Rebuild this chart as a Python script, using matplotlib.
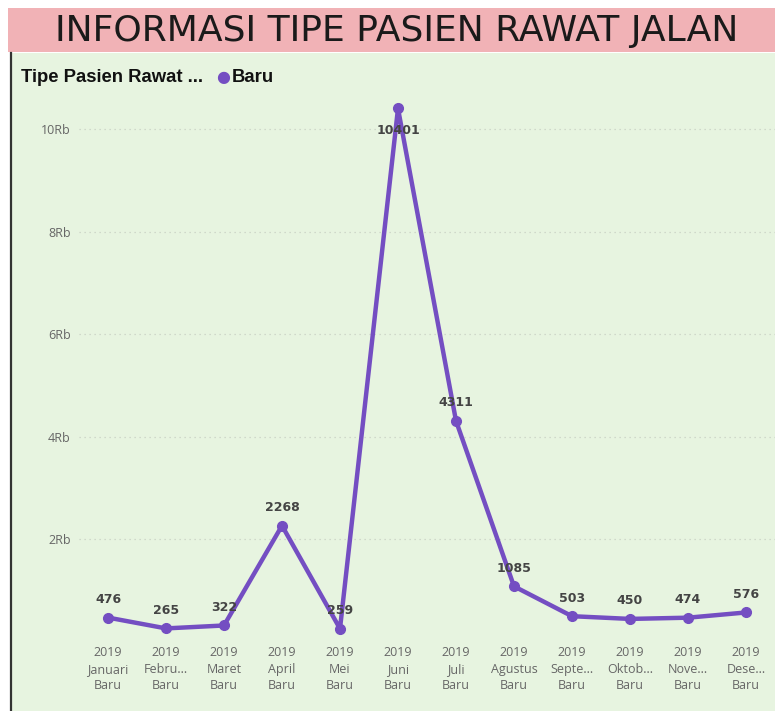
import matplotlib
matplotlib.use("Agg")
import matplotlib.pyplot as plt
from matplotlib.patches import Rectangle
from matplotlib.lines import Line2D

months = ["Januari", "Febru...", "Maret", "April", "Mei", "Juni", "Juli",
          "Agustus", "Septe...", "Oktob...", "Nove...", "Dese..."]
values = [476, 265, 322, 2268, 259, 10401, 4311, 1085, 503, 450, 474, 576]
year = "2019"
series_name = "Baru"
ytick_vals = [2000, 4000, 6000, 8000, 10000]
ytick_labels = ["2Rb", "4Rb", "6Rb", "8Rb", "10Rb"]

W, H = 775, 711
fig = plt.figure(figsize=(W / 100, H / 100), dpi=100)
fig.patch.set_facecolor("white")

def px(x, y, w, h):
    return (x / W, 1 - (y + h) / H, w / W, h / H)

pink = "#F1B2B6"
green = "#E7F4E0"
purple = "#744EC2"

x0, y0, w0, h0 = px(8, 8, 767, 44)
fig.patches.append(Rectangle((x0, y0), w0, h0, transform=fig.transFigure,
                             facecolor=pink, edgecolor="none", zorder=-10))
x0, y0, w0, h0 = px(12, 53, 763, 658)
fig.patches.append(Rectangle((x0, y0), w0, h0, transform=fig.transFigure,
                             facecolor=green, edgecolor="none", zorder=-10))
fig.lines.append(Line2D([11 / W, 11 / W], [0, 1 - 53 / H], transform=fig.transFigure,
                        color="#333333", linewidth=1.6, zorder=-5))

fig.text(397 / W, 1 - 31 / H, "INFORMASI TIPE PASIEN RAWAT JALAN",
         ha="center", va="center", fontsize=26, color="#1a1a1a",
         family="DejaVu Sans", fontweight="normal")

fig.text(21 / W, 1 - 77 / H, "Tipe Pasien Rawat ...", ha="left", va="center",
         fontsize=13.3, fontweight="bold", family="Liberation Sans", color="#111111")
fig.text(216 / W, 1 - 77 / H, "\u25CF", ha="left", va="center",
         fontsize=11.5, color=purple, family="DejaVu Sans")
fig.text(232 / W, 1 - 77 / H, series_name, ha="left", va="center",
         fontsize=13.3, fontweight="bold", family="Liberation Sans", color="#111111")

ymax = 10800
ax = fig.add_axes(px(79, 88, 696, 554))
ax.set_facecolor("none")
xs = list(range(len(values)))
ax.plot(xs, values, color=purple, linewidth=3.2, marker="o", markersize=7,
        solid_joinstyle="round", zorder=3)
for x, v in zip(xs, values):
    # Labels go above the point unless there is no room, then just below it
    dy = 13 if v < ymax * 0.9 else -16
    ax.annotate(f"{v}", (x, v), xytext=(0, dy), textcoords="offset points",
                ha="center", va="center", fontsize=9, fontweight="bold",
                color="#444444", family="DejaVu Sans", zorder=4)

ax.set_xlim(-0.5, len(values) - 0.5)
ax.set_ylim(0, ymax)
ax.set_yticks(ytick_vals)
ax.set_yticklabels(ytick_labels)
ax.set_xticks(xs)
ax.set_xticklabels([f"{year}\n{m}\n{series_name}" for m in months], linespacing=1.35)
for s in ax.spines.values():
    s.set_visible(False)
ax.tick_params(axis="both", length=0, colors="#666666", labelsize=9)
ax.tick_params(axis="x", pad=3)
ax.tick_params(axis="y", pad=6)
for lbl in ax.get_xticklabels() + ax.get_yticklabels():
    lbl.set_family("Open Sans")
ax.grid(axis="y", linestyle=(0, (1, 3)), color="#C8CFC4", linewidth=0.9)
ax.set_axisbelow(True)

fig.savefig("out.png", dpi=100, facecolor=fig.get_facecolor())
